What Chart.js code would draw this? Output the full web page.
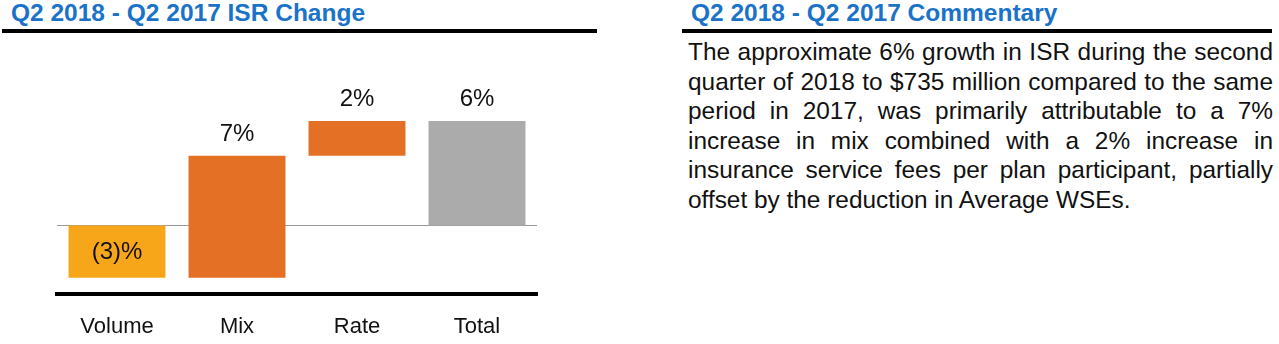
<!DOCTYPE html>
<html>
<head>
<meta charset="utf-8">
<script src="https://cdn.jsdelivr.net/npm/chart.js@4/dist/chart.umd.min.js"></script>
<style>
  html, body { margin: 0; padding: 0; background: #fff; }
  body { width: 1279px; height: 344px; position: relative; overflow: hidden; font-family: "Liberation Sans", Arial, sans-serif; }
  .title { position: absolute; top: 0; font-weight: bold; font-size: 24.5px; line-height: 28px; color: #1a73c8; white-space: nowrap; }
  .rule { position: absolute; top: 29px; height: 4px; background: #000; }
  #chartWrap { position: absolute; left: 0; top: 0; width: 600px; height: 344px; }
  #comment { position: absolute; left: 688px; top: 37px; width: 585px; font-size: 24.4px; line-height: 29.5px; color: #111; }
  #comment span { display: block; white-space: nowrap; text-align: justify; text-align-last: justify; }
  #comment span.last { text-align: left; text-align-last: left; }
</style>
</head>
<body>
<div class="title" style="left:11px; top:-1px;">Q2 2018 - Q2 2017 ISR Change</div>
<div class="rule" style="left:2px; width:595px;"></div>
<div class="title" style="left:691px; top:-1px;">Q2 2018 - Q2 2017 Commentary</div>
<div class="rule" style="left:682px; width:590px;"></div>
<div id="comment">
  <span>The approximate 6% growth in ISR during the second</span>
  <span>quarter of 2018 to $735 million compared to the same</span>
  <span>period in 2017, was primarily attributable to a 7%</span>
  <span>increase in mix combined with a 2% increase in</span>
  <span>insurance service fees per plan participant, partially</span>
  <span class="last">offset by the reduction in Average WSEs.</span>
</div>
<div id="chartWrap"><canvas id="c" width="600" height="344"></canvas></div>
<script>
const categories = ['Volume', 'Mix', 'Rate', 'Total'];
const barStart = [0, -3, 4, 0];
const barEnd = [-3, 4, 6, 6];
const valueLabels = ['(3)%', '7%', '2%', '6%'];
const barColors = ['#f7a619', '#e37025', '#e37025', '#ababab'];

const FONT = '"Liberation Sans", Arial, sans-serif';

const zeroLine = {
  id: 'zeroLine',
  beforeDatasetsDraw(chart) {
    const { ctx, chartArea, scales } = chart;
    const y = Math.round(scales.y.getPixelForValue(0)) + 0.5;
    ctx.save();
    ctx.strokeStyle = '#9a9a9a';
    ctx.lineWidth = 1;
    ctx.beginPath();
    ctx.moveTo(chartArea.left, y);
    ctx.lineTo(chartArea.right, y);
    ctx.stroke();
    ctx.restore();
  }
};

const valueLabelPlugin = {
  id: 'valueLabels',
  afterDatasetsDraw(chart) {
    const { ctx } = chart;
    const meta = chart.getDatasetMeta(0);
    ctx.save();
    ctx.font = '24px ' + FONT;
    ctx.fillStyle = '#111';
    ctx.textAlign = 'center';
    meta.data.forEach((bar, i) => {
      const top = Math.min(bar.y, bar.base);
      const bottom = Math.max(bar.y, bar.base);
      if (barEnd[i] < barStart[i]) {
        ctx.textBaseline = 'middle';
        ctx.fillText(valueLabels[i], bar.x, (top + bottom) / 2 + 1);
      } else {
        ctx.textBaseline = 'alphabetic';
        ctx.fillText(valueLabels[i], bar.x, top - 15);
      }
    });
    ctx.restore();
  }
};

new Chart(document.getElementById('c'), {
  type: 'bar',
  data: {
    labels: categories,
    datasets: [{
      data: barStart.map((s, i) => [s, barEnd[i]]),
      backgroundColor: barColors,
      borderWidth: 0,
      borderSkipped: false,
      categoryPercentage: 1,
      barPercentage: 0.808
    }]
  },
  options: {
    responsive: false,
    animation: false,
    devicePixelRatio: 1,
    layout: { padding: { left: 57, right: 63, top: 88, bottom: 0 } },
    plugins: { legend: { display: false }, tooltip: { enabled: false }, title: { display: false } },
    scales: {
      x: {
        grid: { display: false, drawTicks: false },
        border: { display: true, color: '#000', width: 4 },
        ticks: { color: '#111', font: { family: FONT, size: 22 }, padding: 20 },
        afterFit(scale) { scale.height = 50.5; }
      },
      y: {
        display: false,
        min: -3.91,
        max: 7.9
      }
    }
  },
  plugins: [zeroLine, valueLabelPlugin]
});
</script>
</body>
</html>
